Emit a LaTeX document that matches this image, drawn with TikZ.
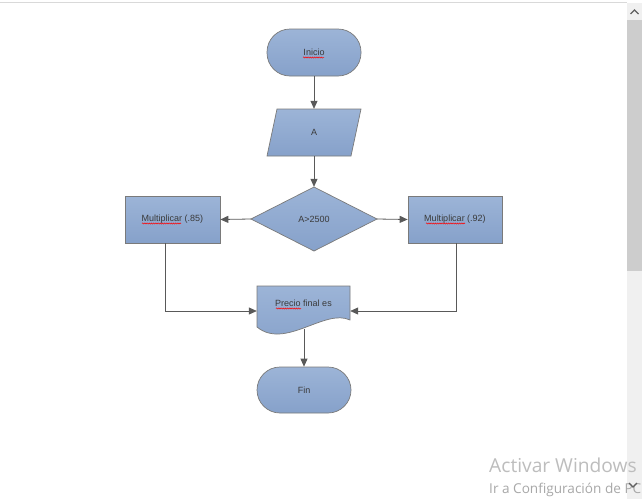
\documentclass[tikz,border=0pt]{standalone}
\usepackage{fontspec}
\setmainfont{Liberation Sans}
\newfontfamily\wmfont{Open Sans}
\usetikzlibrary{arrows.meta,calc,decorations.pathmorphing}
\definecolor{boxtop}{HTML}{9CB4D7}
\definecolor{boxbot}{HTML}{86A1CA}
\definecolor{edgegray}{HTML}{7A7A7A}
\definecolor{conngray}{HTML}{595959}
\definecolor{txtgray}{HTML}{3A3A3A}
\definecolor{wmgray}{HTML}{BDBDBD}
\definecolor{wmgraydark}{HTML}{A8A8A8}
\definecolor{sbback}{HTML}{F0F0F0}
\definecolor{sbthumb}{HTML}{CDCDCD}
\definecolor{sbarrow}{HTML}{606060}
\definecolor{topline}{HTML}{D9D9D9}
\begin{document}
\begin{tikzpicture}[x=1pt,y=-1pt,
  shapefill/.style={draw=edgegray, line width=0.7pt, top color=boxtop, bottom color=boxbot},
  lbl/.style={font=\fontsize{9}{10}\selectfont, text=txtgray, inner sep=0pt},
  anchorbox/.style={draw=none, fill=none, inner sep=0pt, font=\fontsize{9}{10}\selectfont, text=txtgray},
  conn/.style={draw=conngray, line width=0.8pt, -{Triangle[length=8pt,width=7pt]}},
  squig/.style={draw=red, line width=0.5pt, decorate, decoration={snake, amplitude=0.6pt, segment length=2.2pt}},
  sbchev/.style={draw=sbarrow, line width=1.3pt}]
\clip (0,0) rectangle (642,499);
\fill[white] (0,0) rectangle (642,499);
% window chrome
\draw[draw=topline, line width=1pt] (0,2.5) -- (627,2.5);
\fill[sbback] (627,3) rectangle (642,499);
\fill[sbthumb] (627,20) rectangle (642,271);
\draw[sbchev] (630.5,14) -- (634.5,10) -- (638.5,14);

% Inicio
\node[shapefill, lbl, rectangle, rounded corners=23pt, minimum width=94pt, minimum height=47pt] (ini) at (314,52.5) {Inicio};
% A (parallelogram)
\draw[shapefill] (277,109) -- (361,109) -- (351,156) -- (267,156) -- cycle;
\node[anchorbox, minimum width=94pt, minimum height=47pt] (A) at (314,132.5) {A};
% decision
\draw[shapefill] (251,219) -- (314,187) -- (377,219) -- (314,251) -- cycle;
\node[anchorbox, minimum width=126pt, minimum height=64pt] (D) at (314,219) {A>2500};
% process boxes
\node[shapefill, lbl, rectangle, minimum width=95pt, minimum height=47pt] (L) at (172.5,219.5) {Multiplicar (.85)};
\node[shapefill, lbl, rectangle, minimum width=94pt, minimum height=47pt] (R) at (455,219.5) {Multiplicar (.92)};
% document
\draw[shapefill] (257,286) -- (350,286) -- (350,320) .. controls (325,308) and (285,350) .. (257,327) -- cycle;
\node[anchorbox, minimum width=93pt, minimum height=50pt] (P) at (303.5,311) {};
\node[anchorbox] (Pt) at (303.5,303) {Precio final es};
\coordinate (pb) at (304,329);
% Fin
\node[shapefill, lbl, rectangle, rounded corners=23pt, minimum width=94pt, minimum height=46pt] (fin) at (304,390) {Fin};

% connectors
\draw[conn] (ini) -- (A);
\draw[conn] (A.south) -- (D.north);
\draw[conn] (D.west) -- (L.east);
\draw[conn] (D.east) -- (R.west);
\draw[conn] ([xshift=-7.5pt]L.south) |- (P.west);
\draw[conn] ([xshift=1pt]R.south) |- (P.east);
\draw[conn] (pb) -- (pb |- fin.north);

% spell-check squiggles
\draw[squig] (303,57.5) -- (324,57.5);
\draw[squig] (142,223.5) -- (181,223.5);
\draw[squig] (426,223.5) -- (465,223.5);
\draw[squig] (276,308.5) -- (301,308.5);

% watermark
\node[anchor=base west, inner sep=0pt, text=wmgray, font=\wmfont\fontsize{19.2}{22}\selectfont] (wm1) at (489,472) {Activar Windows};
\node[anchor=base west, inner sep=0pt, text=wmgraydark, font=\wmfont\fontsize{13.6}{15}\selectfont] (wm2) at (489,493) {Ir a Configuración de PC};
\draw[sbchev] (629,483) -- (633,487) -- (637,483);
\end{tikzpicture}
\end{document}
